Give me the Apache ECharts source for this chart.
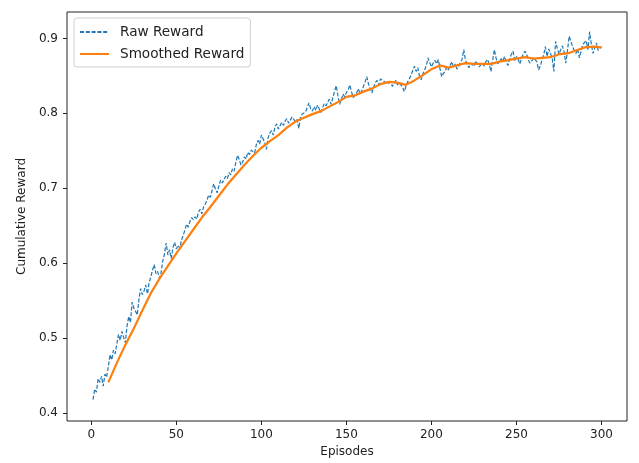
<!DOCTYPE html>
<html>
<head>
<meta charset="UTF-8">
<title>Cumulative Reward</title>
<script type="text/javascript" src="https://cdn.jsdelivr.net/npm/echarts@6/dist/echarts.min.js"></script>
<style>
  html, body { margin: 0; padding: 0; background: #fff; }
  #main { width: 639px; height: 463px; }
</style>
</head>
<body>
<div id="main"></div>
<script type="text/javascript">
// raw reward, one value per episode (1..300)
var rawReward = [
  0.418, 0.432, 0.428, 0.446, 0.441, 0.449, 0.436, 0.452, 0.448, 0.462,
  0.478, 0.471, 0.484, 0.479, 0.492, 0.505, 0.497, 0.509, 0.501, 0.494,
  0.516, 0.529, 0.521, 0.548, 0.540, 0.536, 0.531, 0.552, 0.566, 0.558,
  0.563, 0.571, 0.559, 0.574, 0.582, 0.591, 0.598, 0.586, 0.589, 0.580,
  0.587, 0.603, 0.612, 0.627, 0.611, 0.618, 0.606, 0.621, 0.628, 0.619,
  0.624, 0.620, 0.631, 0.637, 0.644, 0.652, 0.648, 0.656, 0.661, 0.658,
  0.662, 0.659, 0.668, 0.672, 0.666, 0.675, 0.679, 0.684, 0.691, 0.688,
  0.697, 0.706, 0.699, 0.694, 0.703, 0.711, 0.707, 0.709, 0.716, 0.713,
  0.721, 0.718, 0.726, 0.723, 0.735, 0.744, 0.738, 0.731, 0.735, 0.742,
  0.739, 0.748, 0.745, 0.751, 0.753, 0.747, 0.758, 0.764, 0.759, 0.771,
  0.766, 0.761, 0.752, 0.768, 0.774, 0.777, 0.771, 0.782, 0.786, 0.779,
  0.781, 0.788, 0.784, 0.790, 0.793, 0.787, 0.791, 0.795, 0.797, 0.789,
  0.792, 0.780, 0.794, 0.799, 0.797, 0.802, 0.808, 0.814, 0.806, 0.803,
  0.809, 0.804, 0.811, 0.806, 0.801, 0.808, 0.813, 0.810, 0.815, 0.819,
  0.812, 0.821, 0.829, 0.837, 0.824, 0.812, 0.818, 0.826, 0.822, 0.828,
  0.831, 0.838, 0.829, 0.821, 0.823, 0.827, 0.833, 0.826, 0.830, 0.836,
  0.842, 0.849, 0.839, 0.833, 0.827, 0.835, 0.841, 0.844, 0.838, 0.846,
  0.848, 0.843, 0.845, 0.839, 0.837, 0.842, 0.836, 0.840, 0.844, 0.838,
  0.841, 0.839, 0.835, 0.829, 0.836, 0.842, 0.846, 0.851, 0.857, 0.863,
  0.856, 0.861, 0.849, 0.845, 0.853, 0.858, 0.864, 0.874, 0.868, 0.862,
  0.867, 0.871, 0.866, 0.872, 0.860, 0.849, 0.853, 0.856, 0.862, 0.858,
  0.864, 0.869, 0.861, 0.866, 0.859, 0.863, 0.868, 0.872, 0.885, 0.871,
  0.866, 0.861, 0.867, 0.869, 0.863, 0.870, 0.868, 0.862, 0.864, 0.867,
  0.863, 0.869, 0.872, 0.866, 0.856, 0.871, 0.885, 0.874, 0.866, 0.869,
  0.873, 0.870, 0.876, 0.868, 0.864, 0.872, 0.879, 0.883, 0.870, 0.876,
  0.872, 0.866, 0.874, 0.879, 0.883, 0.879, 0.871, 0.867, 0.870, 0.874,
  0.875, 0.869, 0.858, 0.863, 0.871, 0.878, 0.889, 0.876, 0.886, 0.880,
  0.874, 0.856, 0.896, 0.887, 0.879, 0.885, 0.890, 0.882, 0.867, 0.884,
  0.903, 0.896, 0.889, 0.884, 0.880, 0.886, 0.874, 0.883, 0.892, 0.891,
  0.897, 0.885, 0.909, 0.893, 0.880, 0.887, 0.894, 0.884, 0.887, 0.889
];

// smoothed reward, read every 5 episodes
var smoothEpisodes = [
  10, 15, 20, 25, 30, 35, 40, 45, 50, 55, 60, 65, 70, 75, 80, 85, 90, 95, 100,
  105, 110, 115, 120, 125, 130, 135, 140, 145, 150, 155, 160, 165, 170, 175, 180,
  185, 190, 195, 200, 205, 210, 215, 220, 225, 230, 235, 240, 245, 250, 255, 260,
  265, 270, 275, 280, 285, 290, 295, 300
];
var smoothReward = [
  0.441, 0.467, 0.491, 0.513, 0.537, 0.560, 0.579, 0.596, 0.613, 0.629, 0.645, 0.661, 0.675, 0.690, 0.705, 0.718, 0.731, 0.743, 0.754,
  0.763, 0.771, 0.781, 0.789, 0.794, 0.799, 0.803, 0.809, 0.815, 0.822, 0.824, 0.829, 0.833, 0.839, 0.842, 0.841,
  0.838, 0.844, 0.851, 0.859, 0.864, 0.861, 0.864, 0.867, 0.866, 0.866, 0.866, 0.869, 0.871, 0.873, 0.875, 0.873,
  0.874, 0.875, 0.879, 0.880, 0.884, 0.888, 0.889, 0.888
];

var xTicks = [0, 50, 100, 150, 200, 250, 300];
var yTicks = [0.4, 0.5, 0.6, 0.7, 0.8, 0.9];

var rawData = [];
for (var i = 0; i < rawReward.length; i++) {
  rawData.push([i + 1, rawReward[i]]);
}
var smoothData = [];
for (var j = 0; j < smoothEpisodes.length; j++) {
  smoothData.push([smoothEpisodes[j], smoothReward[j]]);
}

var myChart = echarts.init(document.getElementById('main'), null, {renderer: 'canvas'});

var font = 'DejaVu Sans';

var option = {
  backgroundColor: '#fff',
  animation: false,
  grid: {
    left: 67,
    right: 12,
    top: 12,
    bottom: 40,
    show: true,
    borderColor: '#222',
    borderWidth: 1,
    containLabel: false
  },
  legend: {
    orient: 'vertical',
    left: 74,
    top: 18,
    padding: [7, 6, 6, 5],
    itemWidth: 29,
    itemHeight: 13,
    itemGap: 8,
    backgroundColor: 'rgba(255,255,255,0.8)',
    borderColor: '#d0d0d0',
    borderWidth: 1,
    borderRadius: 3,
    itemStyle: { opacity: 0 },
    textStyle: {
      fontFamily: font,
      fontSize: 13.6,
      color: '#222',
      padding: [0, 0, 0, 6]
    },
    data: ['Raw Reward', 'Smoothed Reward']
  },
  xAxis: {
    type: 'value',
    min: -14.3,
    max: 315,
    name: 'Episodes',
    nameLocation: 'middle',
    nameGap: 25,
    nameTextStyle: { fontFamily: font, fontSize: 12, color: '#222' },
    axisLine: { show: false, onZero: false },
    axisTick: {
      show: true,
      inside: false,
      length: 4,
      customValues: xTicks,
      lineStyle: { color: '#222', width: 1 }
    },
    axisLabel: {
      customValues: xTicks,
      margin: 8,
      fontFamily: font,
      fontSize: 12,
      color: '#222'
    },
    splitLine: { show: false }
  },
  yAxis: {
    type: 'value',
    min: 0.3894,
    max: 0.9353,
    name: 'Cumulative Reward',
    nameLocation: 'middle',
    nameGap: 38,
    nameTextStyle: { fontFamily: font, fontSize: 12, color: '#222' },
    axisLine: { show: false, onZero: false },
    axisTick: {
      show: true,
      inside: false,
      length: 4,
      customValues: yTicks,
      lineStyle: { color: '#222', width: 1 }
    },
    axisLabel: {
      customValues: yTicks,
      margin: 9,
      fontFamily: font,
      fontSize: 12,
      color: '#222',
      formatter: function (v) { return v.toFixed(1); }
    },
    splitLine: { show: false }
  },
  series: [
    {
      name: 'Raw Reward',
      type: 'line',
      data: rawData,
      symbol: 'none',
      color: '#1f77b4',
      lineStyle: { color: '#1f77b4', width: 1.2, type: [4, 1.8] }
    },
    {
      name: 'Smoothed Reward',
      type: 'line',
      data: smoothData,
      symbol: 'none',
      color: '#ff7f0e',
      lineStyle: { color: '#ff7f0e', width: 2.2 }
    }
  ]
};

myChart.setOption(option);
</script>
</body>
</html>
